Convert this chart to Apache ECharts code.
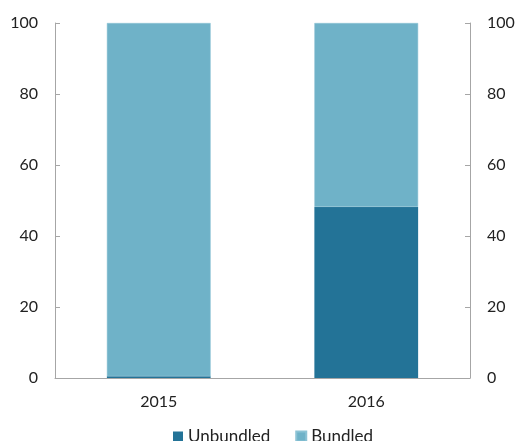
<!DOCTYPE html>
<html>
<head>
<meta charset="utf-8">
<script src="https://cdn.jsdelivr.net/npm/echarts@6/dist/echarts.min.js"></script>
<style>
  html, body { margin: 0; padding: 0; background: #fff; }
  #chart { width: 519px; height: 441px; }
</style>
</head>
<body>
<div id="chart"></div>
<script>
// data
var years = ['2015', '2016'];
var unbundled = [0.5, 48.2];
var bundled = [99.5, 51.8];
var yTicks = [0, 20, 40, 60, 80, 100];

var chart = echarts.init(document.getElementById('chart'));

var axisCommon = {
  type: 'value',
  min: yTicks[0],
  max: yTicks[yTicks.length - 1],
  interval: 20,
  splitLine: { show: false },
  axisLine: { show: true, lineStyle: { color: '#a6a6a6', width: 1 } },
  axisTick: { show: true, inside: true, length: 5, lineStyle: { color: '#a6a6a6' } },
  axisLabel: { color: '#222', fontSize: 16, fontFamily: 'Lato', margin: 17 }
};

var option = {
  animation: false,
  grid: { left: 55, right: 49, top: 23, bottom: 63, containLabel: false },
  legend: {
    top: 423,
    left: 168,
    itemWidth: 10,
    itemHeight: 10,
    itemGap: 25,
    icon: 'rect',
    textStyle: { color: '#222', fontSize: 17, fontFamily: 'Lato' },
    data: ['Unbundled', 'Bundled']
  },
  xAxis: {
    type: 'category',
    data: years,
    axisLine: { lineStyle: { color: '#a6a6a6' } },
    axisTick: { show: false },
    axisLabel: { color: '#222', fontSize: 16, fontFamily: 'Lato', margin: 16 }
  },
  yAxis: [
    Object.assign({}, axisCommon, { position: 'left' }),
    Object.assign({}, axisCommon, { position: 'right' })
  ],
  series: [
    {
      name: 'Unbundled',
      type: 'bar',
      stack: 'total',
      barWidth: '50%',
      data: unbundled,
      itemStyle: { color: '#237397' }
    },
    {
      name: 'Bundled',
      type: 'bar',
      stack: 'total',
      barWidth: '50%',
      data: bundled,
      itemStyle: { color: '#6fb2c8', borderColor: '#8cc3d5', borderWidth: 0.5 }
    }
  ]
};

chart.setOption(option);
</script>
</body>
</html>
